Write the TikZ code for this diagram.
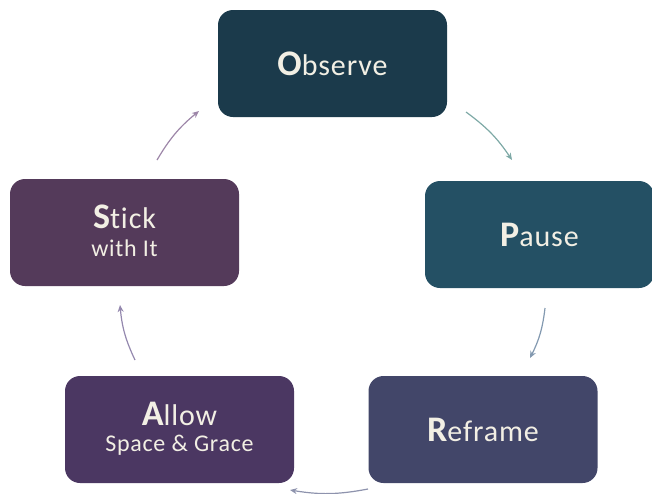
\documentclass[tikz,border=0pt]{standalone}
\usepackage{fontspec}
\setmainfont{Carlito}[LetterSpace=3, Ligatures=NoCommon]
\usetikzlibrary{arrows.meta}
\definecolor{cObs}{HTML}{1B3A4B}
\definecolor{cPau}{HTML}{245064}
\definecolor{cRef}{HTML}{424669}
\definecolor{cAll}{HTML}{4B3762}
\definecolor{cSti}{HTML}{543A5A}
\definecolor{cTxt}{HTML}{F2EFE4}
\definecolor{aOne}{HTML}{7EA9A6}
\definecolor{aTwo}{HTML}{8399B0}
\definecolor{aThr}{HTML}{8E93AD}
\definecolor{aFou}{HTML}{9488AE}
\definecolor{aFiv}{HTML}{9D86A8}
\newcommand{\BigInit}[1]{{\fontsize{36}{36}\selectfont\bfseries #1}}
\tikzset{
  box/.style={rounded corners=15pt, minimum width=229pt, minimum height=107pt,
    inner sep=0pt, text=cTxt, align=center, font=\fontsize{30}{32}\selectfont},
  lbl/.style={text=cTxt, inner sep=0pt, font=\fontsize{30}{32}\selectfont},
  sub/.style={text=cTxt, inner sep=0pt, font=\fontsize{24}{26}\selectfont},
  cyc/.style={line width=1.2pt, -{Stealth[length=7pt,width=6pt]}, bend left=10}
}
\begin{document}
\begin{tikzpicture}[x=1pt,y=1pt]
\useasboundingbox (0,0) rectangle (652,-493);
\node[box, fill=cObs] (obs) at (332.5,-63.5) {\BigInit{O}bserve};
\node[box, fill=cPau] (pau) at (539.5,-234.5) {\BigInit{P}ause};
\node[box, fill=cRef] (ref) at (483,-429.5) {\BigInit{R}eframe};
\node[box, fill=cAll] (all) at (179.5,-429.5) {};
\node[box, fill=cSti] (sti) at (124.5,-232.5) {};
\node[lbl] (allT) at (179.5,-414) {\BigInit{A}llow};
\node[sub] (allS) at (179.5,-445) {Space \& Grace};
\node[lbl] (stiT) at (124.5,-217) {\BigInit{S}tick};
\node[sub] (stiS) at (124.5,-248) {with It};
\coordinate (a1s) at (466,-112); \coordinate (a1e) at (512,-160);
\coordinate (a2s) at (545,-308); \coordinate (a2e) at (530,-358);
\coordinate (a3s) at (368,-489); \coordinate (a3e) at (290,-490);
\coordinate (a4s) at (135,-360); \coordinate (a4e) at (120,-305);
\coordinate (a5s) at (157,-160); \coordinate (a5e) at (199,-111);
\draw[cyc, draw=aOne] (a1s) to (a1e);
\draw[cyc, draw=aTwo] (a2s) to (a2e);
\draw[cyc, draw=aThr] (a3s) to (a3e);
\draw[cyc, draw=aFou] (a4s) to (a4e);
\draw[cyc, draw=aFiv] (a5s) to (a5e);
\end{tikzpicture}
\end{document}
